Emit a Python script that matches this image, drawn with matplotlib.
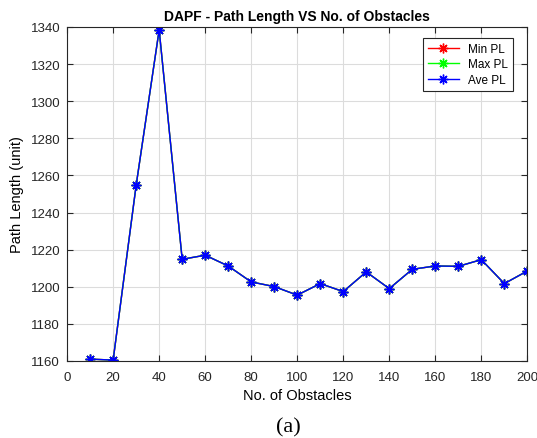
import matplotlib
matplotlib.use("Agg")
import matplotlib.pyplot as plt

obstacles = [10, 20, 30, 40, 50, 60, 70, 80, 90, 100, 110, 120, 130, 140, 150, 160, 170, 180, 190, 200]
ave_pl = [1161.0, 1160.5, 1254.7, 1338.4, 1214.8, 1217.0, 1211.2, 1202.6, 1200.1, 1195.5,
          1201.7, 1197.4, 1208.0, 1199.0, 1209.4, 1211.2, 1211.0, 1214.6, 1201.7, 1208.5]
min_pl = list(ave_pl)
max_pl = list(ave_pl)
xticks = [0, 20, 40, 60, 80, 100, 120, 140, 160, 180, 200]
yticks = [1160, 1180, 1200, 1220, 1240, 1260, 1280, 1300, 1320, 1340]

plt.rcParams['font.family'] = ['Liberation Sans', 'DejaVu Sans']

fig = plt.figure(figsize=(5.37, 4.39), dpi=100)
ax = fig.add_axes([0.125, 0.1754, 0.857, 0.761])

kw = dict(marker=(8, 2, 0), markersize=7, linewidth=1.0, markeredgewidth=1.0)
ax.plot(obstacles, min_pl, color='#ff0000', label='Min PL', **kw)
ax.plot(obstacles, max_pl, color='#00ff00', label='Max PL', **kw)
ax.plot(obstacles, ave_pl, color='#0000ff', label='Ave PL', **kw)

ax.set_xlim(0, 200)
ax.set_ylim(1160, 1340)
ax.set_xticks(xticks)
ax.set_yticks(yticks)
ax.grid(True, color='#dcdcdc', linewidth=0.8)
ax.set_axisbelow(True)
ax.tick_params(direction='in', top=True, right=True, labelsize=9.5, colors='#262626', length=4)
ax.tick_params(axis='x', pad=7)
ax.tick_params(axis='y', pad=5)
for s in ax.spines.values():
    s.set_color('#262626')
    s.set_linewidth(0.8)

ax.set_title('DAPF - Path Length VS No. of Obstacles', fontsize=10, fontweight='bold', pad=5)
ax.set_xlabel('No. of Obstacles', fontsize=10.5, labelpad=4)
ax.set_ylabel('Path Length (unit)', fontsize=10.5, labelpad=5)

leg = ax.legend(loc='upper right', fontsize=8.5, fancybox=False, edgecolor='#262626',
                framealpha=1, borderpad=0.4, handlelength=2.6, labelspacing=0.3,
                bbox_to_anchor=(0.981, 0.984))
leg.get_frame().set_linewidth(0.8)

fig.text(0.537, 0.015, '(a)', fontsize=16, family=['Liberation Serif', 'DejaVu Serif'], ha='center')

fig.savefig('out.png', dpi=100)
